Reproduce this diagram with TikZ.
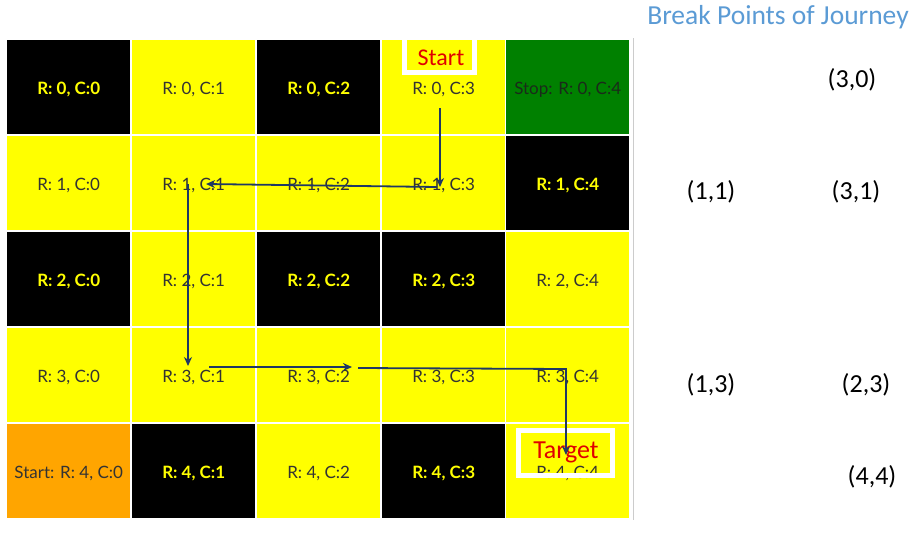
\documentclass[tikz,border=0pt]{standalone}
\usepackage{fontspec}
\setmainfont{Lato}
\newfontfamily\calibri{Carlito}
\usetikzlibrary{arrows.meta}
\definecolor{cyel}{HTML}{FFFF00}
\definecolor{cgreen}{HTML}{008000}
\definecolor{corange}{HTML}{FFA500}
\definecolor{ctxt}{HTML}{333333}
\definecolor{cgtxt}{HTML}{1A2A1A}
\definecolor{cnavy}{HTML}{1F3864}
\definecolor{cblue}{HTML}{5B9BD5}
\definecolor{cred}{HTML}{E00000}
\begin{document}
\begin{tikzpicture}[x=1pt,y=-1pt,
  cell/.style={anchor=north west, minimum width=123pt, minimum height=94pt, inner sep=0pt, text height=15.5pt, text depth=0pt, font=\fontsize{17}{20}\selectfont},
  ycell/.style={cell, fill=cyel, text=ctxt},
  bcell/.style={cell, fill=black, text=cyel, font=\fontsize{17}{20}\selectfont\bfseries},
  gcell/.style={cell, fill=cgreen, text=cgtxt},
  ocell/.style={cell, fill=corange, text=ctxt},
  arr/.style={draw=cnavy, line width=1.8pt, -{Stealth[length=9pt,width=8pt]}},
  lbl/.style={font=\calibri\fontsize{26}{30}\selectfont, text=black, inner sep=0pt},
  redlbl/.style={text=cred, inner sep=0pt},
  whitebox/.style={draw=white, line width=5pt}
]
\useasboundingbox (0,0) rectangle (921,544);
\fill[white] (0,0) rectangle (921,544);
% row 0
\node[bcell] (c00) at (7,40) {R: 0, C:0};
\node[ycell] (c01) at (132,40) {R: 0, C:1};
\node[bcell] (c02) at (257,40) {R: 0, C:2};
\node[ycell] (c03) at (382,40) {R: 0, C:3};
\node[gcell] (c04) at (506,40) {Stop: R: 0, C:4};
% row 1
\node[ycell] (c10) at (7,136) {R: 1, C:0};
\node[ycell] (c11) at (132,136) {R: 1, C:1};
\node[ycell] (c12) at (257,136) {R: 1, C:2};
\node[ycell] (c13) at (382,136) {R: 1, C:3};
\node[bcell] (c14) at (506,136) {R: 1, C:4};
% row 2
\node[bcell] (c20) at (7,232) {R: 2, C:0};
\node[ycell] (c21) at (132,232) {R: 2, C:1};
\node[bcell] (c22) at (257,232) {R: 2, C:2};
\node[bcell] (c23) at (382,232) {R: 2, C:3};
\node[ycell] (c24) at (506,232) {R: 2, C:4};
% row 3
\node[ycell] (c30) at (7,328) {R: 3, C:0};
\node[ycell] (c31) at (132,328) {R: 3, C:1};
\node[ycell] (c32) at (257,328) {R: 3, C:2};
\node[ycell] (c33) at (382,328) {R: 3, C:3};
\node[ycell] (c34) at (506,328) {R: 3, C:4};
% row 4
\node[ocell] (c40) at (7,424) {Start: R: 4, C:0};
\node[bcell] (c41) at (132,424) {R: 4, C:1};
\node[ycell] (c42) at (257,424) {R: 4, C:2};
\node[bcell] (c43) at (382,424) {R: 4, C:3};
\node[ycell] (c44) at (506,424) {R: 4, C:4};
% thin divider
\draw[draw=black!20, line width=0.8pt] (633,38) -- (633,520);
% start / target boxes
\draw[whitebox] (404.5,35) rectangle (474.5,72.5);
\node[redlbl, font=\calibri\fontsize{24}{28}\selectfont] (start) at (441,58) {Start};
\draw[whitebox] (518.5,430.5) rectangle (612.5,475.5);
\node[redlbl, font=\calibri\fontsize{26}{30}\selectfont] (target) at (566,452) {Target};
% path arrows
\coordinate (a0) at (440,108);
\coordinate (a1) at (440,187);
\coordinate (b0) at (437,187);
\coordinate (b1) at (206,184);
\coordinate (p0) at (188,184);
\coordinate (p1) at (188,366);
\coordinate (d0) at (209,367);
\coordinate (d1) at (352,367);
\coordinate (e0) at (358,368);
\coordinate (e1) at (566,369);
\coordinate (e2) at (566,455);
\draw[arr] (a0) -- (a1);
\draw[arr] (b0) -- (b1);
\draw[arr] (p0) -- (p1);
\draw[arr] (d0) -- (d1);
\draw[arr] (e0) -- (e1) -- (e2);
% right side
\node[text=cblue, font=\calibri\fontsize{27.5}{32}\selectfont, inner sep=0pt] (title) at (778,17) {Break Points of Journey};
\node[lbl] (bp30) at (852,80) {(3,0)};
\node[lbl] (bp11) at (711,192) {(1,1)};
\node[lbl] (bp31) at (856,192) {(3,1)};
\node[lbl] (bp13) at (711,385) {(1,3)};
\node[lbl] (bp23) at (866,385) {(2,3)};
\node[lbl] (bp44) at (872,477) {(4,4)};
\end{tikzpicture}
\end{document}
